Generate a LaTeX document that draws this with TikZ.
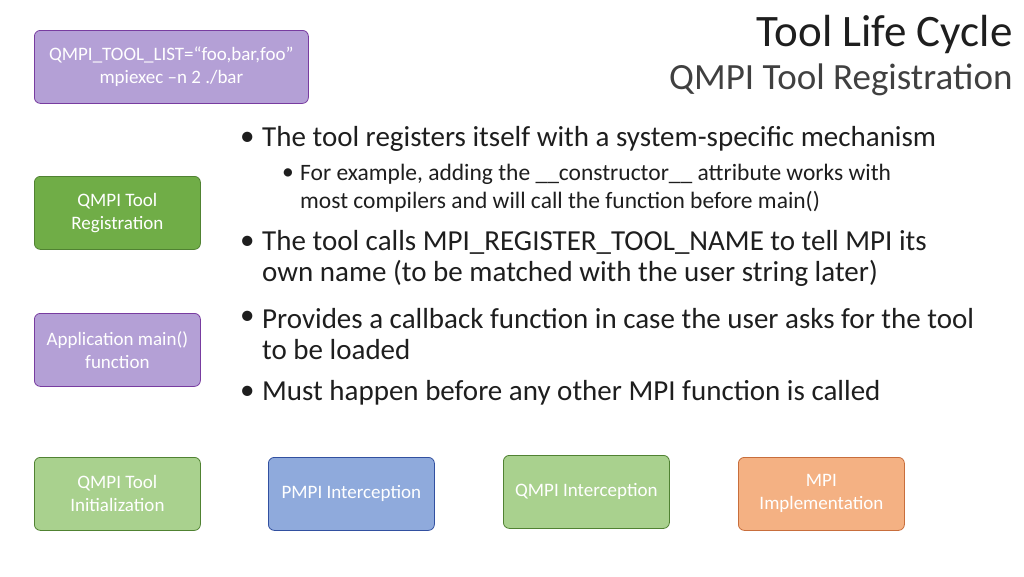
\documentclass[tikz,border=0pt]{standalone}
\usepackage{fontspec}
\setmainfont{Carlito}
\usetikzlibrary{positioning}
\definecolor{lilac}{RGB}{180,160,214}
\definecolor{lilacdark}{RGB}{120,60,160}
\definecolor{leaf}{RGB}{112,173,71}
\definecolor{leafdark}{RGB}{80,130,50}
\definecolor{mint}{RGB}{169,209,142}
\definecolor{sky}{RGB}{143,170,220}
\definecolor{skydark}{RGB}{50,80,160}
\definecolor{peach}{RGB}{244,177,131}
\definecolor{peachdark}{RGB}{200,110,60}
\definecolor{ink}{RGB}{30,30,30}
\tikzset{box/.style={rectangle, rounded corners=6pt, draw, line width=0.8pt,
    text=white, align=center, minimum width=166pt, minimum height=73pt,
    font=\fontsize{19}{23}\selectfont, anchor=north west},
  item/.style={anchor=west, text=ink, align=left, inner sep=0pt,
    font=\fontsize{29}{31.5}\selectfont},
  subitem/.style={item, font=\fontsize{23.5}{28}\selectfont}}

\begin{document}
\begin{tikzpicture}[x=1pt, y=-1pt]
        \useasboundingbox (0,0) rectangle (1024,576);

        \node [box, fill=lilac, draw=lilacdark, minimum width=274pt] (toollist) at (34,30)
            {QMPI\_TOOL\_LIST=“foo,bar,foo”\\mpiexec –n 2 ./bar};
        \node [box, fill=leaf, draw=leafdark] (registration) at (34,176) {QMPI Tool\\Registration};
        \node [box, fill=lilac, draw=lilacdark] (appmain) at (34,313) {Application main()\\function};
        \node [box, fill=mint, draw=leafdark] (init) at (34,457) {QMPI Tool\\Initialization};
        \node [box, fill=sky, draw=skydark] (pmpi) at (268,457) {PMPI Interception};
        \node [box, fill=mint, draw=leafdark] (qmpi) at (503,455) {QMPI Interception};
        \node [box, fill=peach, draw=peachdark] (mpiimpl) at (738,457) {MPI\\Implementation};

        % title
        \node [anchor=east, text=ink, font=\fontsize{45}{48}\selectfont] (title) at (1016,34) {Tool Life Cycle};
        \node [anchor=east, text=ink!85, font=\fontsize{37}{40}\selectfont] (subtitle) at (1016,80) {QMPI Tool Registration};

        % bullets
        \node [item] (dot1) at (240,139) {•};
        \node [item] (item1) at (262,139) {The tool registers itself with a system-specific mechanism};
        \node [subitem] (dot1a) at (282,174) {•};
        \node [subitem] (item1a) at (300,188) {For example, adding the \_\_constructor\_\_ attribute works with\\most compilers and will call the function before main()};
        \node [item] (dot2) at (240,243) {•};
        \node [item] (item2) at (262,258.5) {The tool calls MPI\_REGISTER\_TOOL\_NAME to tell MPI its\\own name (to be matched with the user string later)};
        \node [item] (dot3) at (240,318) {•};
        \node [item] (item3) at (262,334) {Provides a callback function in case the user asks for the tool\\to be loaded};
        \node [item] (dot4) at (240,393) {•};
        \node [item] (item4) at (262,393) {Must happen before any other MPI function is called};
    \end{tikzpicture}
\end{document}
